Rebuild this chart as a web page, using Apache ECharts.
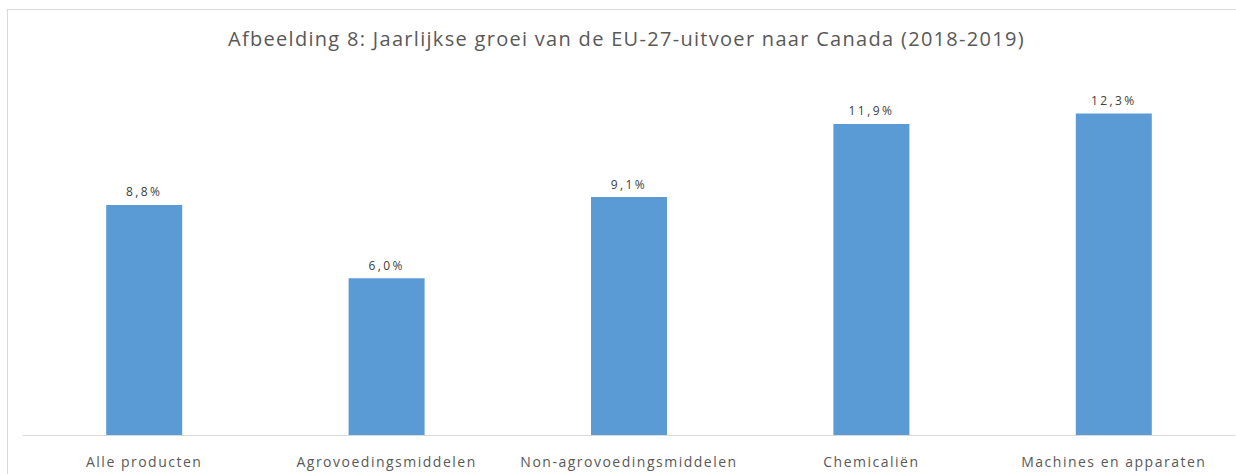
<!DOCTYPE html>
<html><head><meta charset="utf-8">
<script src="https://cdn.jsdelivr.net/npm/echarts@6/dist/echarts.min.js"></script>
<style>
html,body{margin:0;padding:0;background:#fff;}
#frame{position:absolute;left:7px;top:9px;width:1240px;height:480px;border:1px solid #d9d9d9;box-sizing:border-box;}
#c{position:absolute;left:0;top:0;width:1236px;height:474px;}
</style></head>
<body><div id="frame"></div><div id="c"></div>
<script>
const titleText = 'Afbeelding 8: Jaarlijkse groei van de EU-27-uitvoer naar Canada (2018-2019)';
const categories = ['Alle producten','Agrovoedingsmiddelen','Non-agrovoedingsmiddelen','Chemicaliën','Machines en apparaten'];
const values = [8.8, 6.0, 9.1, 11.9, 12.3];
const chart = echarts.init(document.getElementById('c'), null, {renderer:'svg'});
chart.setOption({
  animation:false,
  title:{text:titleText,left:223,top:23,textStyle:{fontFamily:'Open Sans',fontSize:20,fontWeight:'normal',color:'#595959'}},
  grid:{left:23,right:1,top:69,bottom:39},
  xAxis:{type:'category',data:categories,axisLine:{lineStyle:{color:'#d9d9d9'}},axisTick:{show:false},
    axisLabel:{fontFamily:'Open Sans',fontSize:14,color:'#595959',margin:19,interval:0}},
  yAxis:{type:'value',min:0,max:14,show:false,splitLine:{show:false}},
  series:[{type:'bar',data:values,barWidth:76,itemStyle:{color:'#5B9BD5'},
    label:{show:true,position:'top',distance:7,fontFamily:'Open Sans',fontSize:12,color:'#404040',
      formatter:p=>p.value.toFixed(1).replace('.',',')+'%'}}]
});
document.querySelectorAll('#c text').forEach(t=>{
  const s=t.textContent;
  let ls='2.4px';
  if(s===titleText) ls='1.3px';
  else if(categories.includes(s)) ls='1.5px';
  t.setAttribute('letter-spacing',ls);
});
</script></body></html>
